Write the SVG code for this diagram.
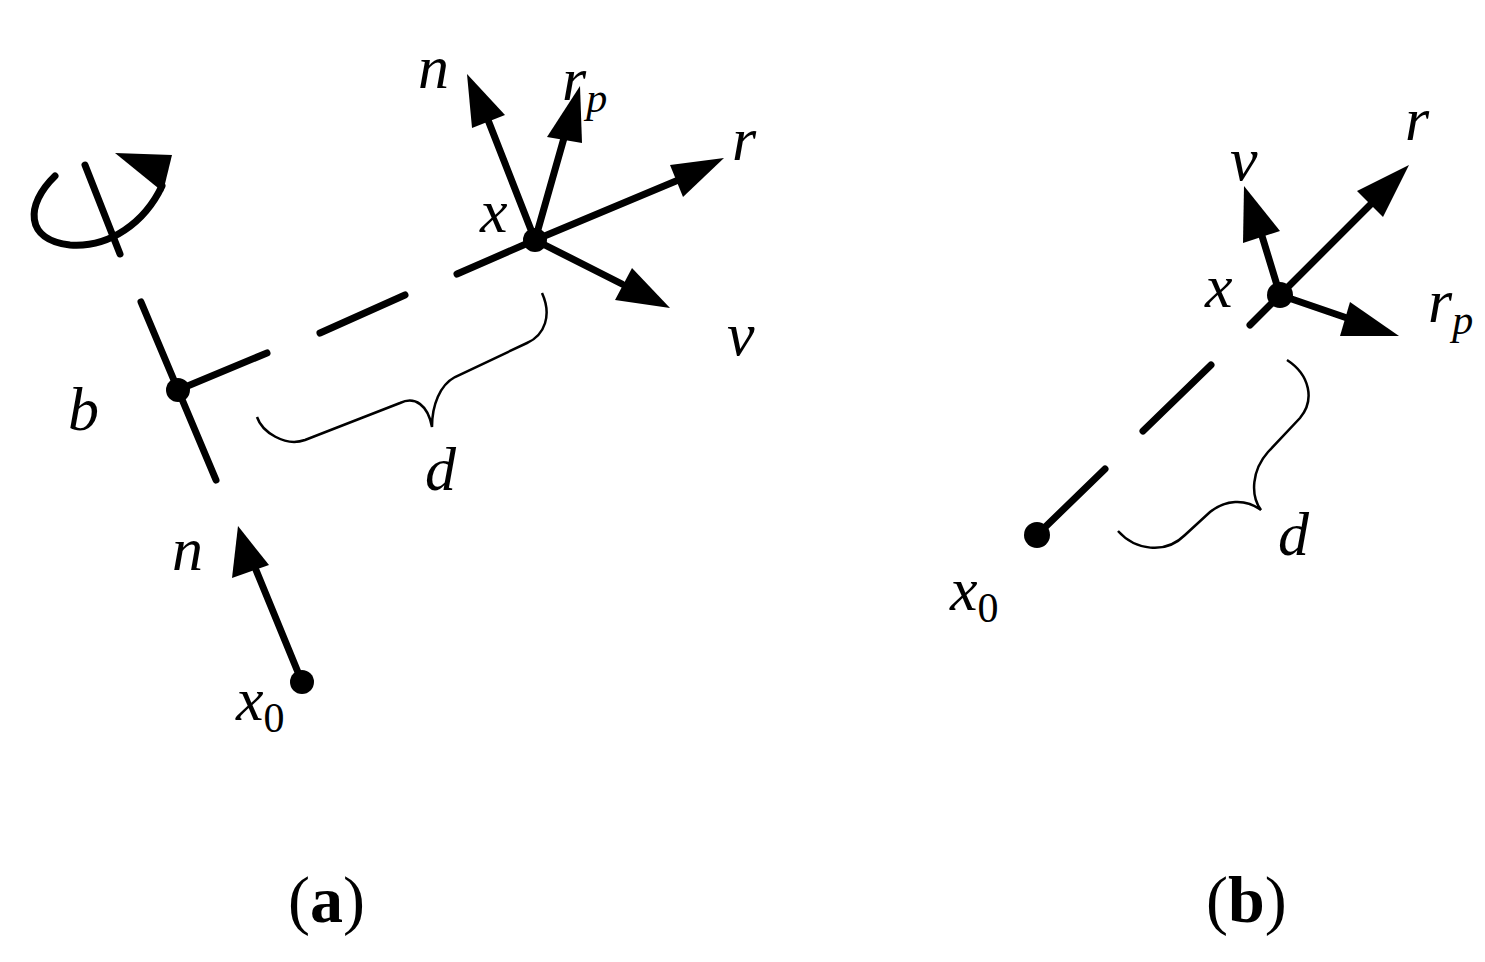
<svg xmlns="http://www.w3.org/2000/svg" width="1485" height="962" viewBox="0 0 1485 962">
<style>
.l{stroke:#000;stroke-width:7;stroke-linecap:round;fill:none}
.t{stroke:#000;stroke-width:2.5;fill:none}
.i{font-family:"Liberation Serif","Times New Roman",serif;font-style:italic;font-size:62px}
.s{font-family:"Liberation Serif","Times New Roman",serif;font-size:42px}
.c{font-family:"Liberation Serif","Times New Roman",serif;font-size:66px}
</style>
<rect width="1485" height="962" fill="#fff"/>
<g id="connectors">
<line class="l" x1="85" y1="165" x2="120" y2="254"/>
<path class="l" d="M55,176 C25,205 25,240 70,245 C110,248 145,222 162,186"/>
<polygon points="115,153 172,155 163,192"/>
<line class="l" x1="141" y1="302" x2="216" y2="480"/>
<line class="l" x1="178" y1="390" x2="267" y2="353"/>
<line class="l" x1="320" y1="333" x2="405" y2="295"/>
<line class="l" x1="457" y1="274" x2="535" y2="240"/>
<line class="l" x1="535" y1="240" x2="488" y2="120"/>
<polygon points="467,74 472,128 505,115"/>
<line class="l" x1="535" y1="240" x2="564" y2="138"/>
<polygon points="580,86 547,137 582,143"/>
<line class="l" x1="535" y1="240" x2="676" y2="181"/>
<polygon points="724,158 670,165 683,197"/>
<line class="l" x1="535" y1="240" x2="622" y2="284"/>
<polygon points="670,308 615,300 632,268"/>
<path class="t" d="M542,293 C552,315 545,335 527,343 L455,377 C440,385 432,405 432,427 C428,405 415,396 400,403 L305,440 C285,447 262,432 257,417"/>
<line class="l" x1="302" y1="682" x2="256" y2="570"/>
<polygon points="238,526 232,578 269,565"/>
<circle cx="178" cy="390" r="12"/>
<circle cx="535" cy="240" r="12"/>
<circle cx="302" cy="682" r="12"/>
<line class="l" x1="1037" y1="535" x2="1105" y2="469"/>
<line class="l" x1="1143" y1="431" x2="1211" y2="365"/>
<line class="l" x1="1250" y1="325" x2="1280" y2="295"/>
<line class="l" x1="1280" y1="295" x2="1373" y2="202"/>
<polygon points="1409,165 1357,191 1383,217"/>
<line class="l" x1="1280" y1="295" x2="1262" y2="236"/>
<polygon points="1244,186 1243,243 1280,231"/>
<line class="l" x1="1280" y1="295" x2="1347" y2="318"/>
<polygon points="1399,336 1340,336 1350,302"/>
<path class="t" d="M1287,360 C1310,375 1315,400 1300,418 L1268,452 C1252,470 1250,495 1261,510 C1245,498 1225,500 1210,512 L1185,535 C1165,555 1135,550 1118,531"/>
<circle cx="1037" cy="535" r="13"/>
<circle cx="1280" cy="295" r="13"/>
</g>
<g id="labels-a">
<text class="i" x="418" y="88">n</text>
<text class="i" x="562" y="100">r<tspan class="s" font-style="italic" dy="12">p</tspan></text>
<text class="i" x="732" y="160">r</text>
<text class="i" x="480" y="232">x</text>
<text class="i" x="727" y="355">v</text>
<text class="i" x="68" y="430">b</text>
<text class="i" x="425" y="490">d</text>
<text class="i" x="172" y="570">n</text>
<text class="i" x="236" y="720">x<tspan class="s" font-style="normal" dy="12">0</tspan></text>
<text class="c" x="288" y="922">(<tspan font-weight="bold">a</tspan>)</text>
</g>
<g id="labels-b">
<text class="i" x="1230" y="180">v</text>
<text class="i" x="1405" y="140">r</text>
<text class="i" x="1205" y="307">x</text>
<text class="i" x="1428" y="322">r<tspan class="s" font-style="italic" dy="12">p</tspan></text>
<text class="i" x="1278" y="555">d</text>
<text class="i" x="950" y="610">x<tspan class="s" font-style="normal" dy="12">0</tspan></text>
<text class="c" x="1206" y="922">(<tspan font-weight="bold">b</tspan>)</text>
</g>
</svg>
